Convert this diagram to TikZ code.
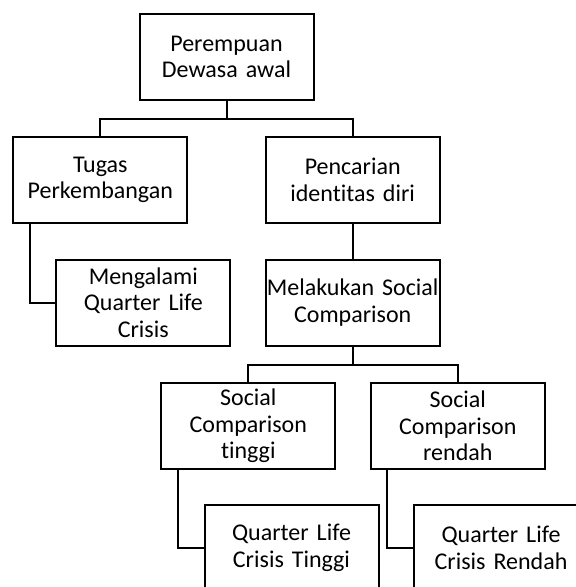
\documentclass[tikz,border=0pt]{standalone}
\usepackage{fontspec}
\setmainfont{Carlito}[Ligatures=NoCommon]
\begin{document}
\begin{tikzpicture}[x=1pt,y=-1pt,
  box/.style={draw,line width=2pt,rectangle,minimum width=174pt,minimum height=86pt,
    text width=172pt,inner sep=1pt,align=center,font=\fontsize{24}{26.5}\selectfont},
  conn/.style={line width=2pt}]
\useasboundingbox (0,0) rectangle (576,587);
\clip (0,0) rectangle (576,587);
\node[box] (top) at (226.5,57) {Perempuan\\Dewasa awal};
\node[box] (tugas) at (100.3,180) {Tugas\\Perkembangan};
\node[box] (cari) at (352.7,180) {Pencarian\\identitas diri};
\node[box] (alami) at (143.3,302.5) {Mengalami\\Quarter Life\\Crisis};
\node[box] (laku) at (352.7,302.5) {Melakukan Social\\Comparison};
\node[box] (sct) at (248.3,426) {Social\\Comparison\\tinggi};
\node[box] (scr) at (457.8,426) {Social\\Comparison\\rendah};
\node[box] (qlct) at (291.5,548) {Quarter Life\\Crisis Tinggi};
\node[box] (qlcr) at (501,548) {Quarter Life\\Crisis Rendah};
\coordinate (b1) at ([yshift=-18pt]top.south);
\draw[conn] (top.south) -- (b1) -| (tugas.north);
\draw[conn] (b1) -| (cari.north);
\draw[conn] (cari.south) -- (laku.north);
\coordinate (b2) at ([yshift=-18pt]laku.south);
\draw[conn] (laku.south) -- (b2) -| (sct.north);
\draw[conn] (b2) -| (scr.north);
\draw[conn] ([xshift=17.7pt]tugas.south west) |- (alami.west);
\draw[conn] ([xshift=17.7pt]sct.south west) |- (qlct.west);
\draw[conn] ([xshift=17.3pt]scr.south west) |- (qlcr.west);
\end{tikzpicture}
\end{document}
